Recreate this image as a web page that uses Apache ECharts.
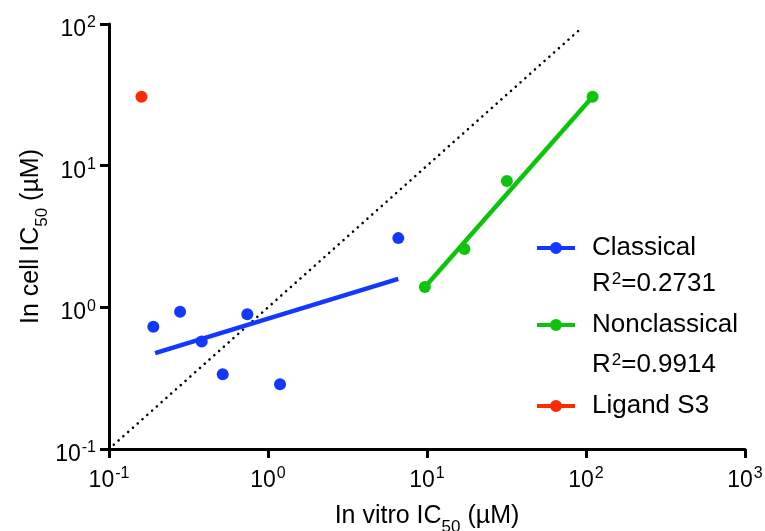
<!DOCTYPE html>
<html>
<head>
<meta charset="utf-8">
<script src="https://cdn.jsdelivr.net/npm/echarts@6/dist/echarts.min.js"></script>
<style>
  html, body { margin: 0; padding: 0; background: #fff; }
  #chart { width: 765px; height: 531px; }
</style>
</head>
<body>
<div id="chart"></div>
<script>
// IC50 values (µM): in vitro (x) vs in cell (y)
const classicalX = [0.19, 0.28, 0.383, 0.519, 0.741, 1.19, 6.6];
const classicalY = [0.73, 0.93, 0.573, 0.337, 0.895, 0.286, 3.08];
const classicalFitX = [0.195, 6.6];
const classicalFitY = [0.475, 1.59];

const nonclassicalX = [9.7, 17.2, 31.8, 110];
const nonclassicalY = [1.39, 2.58, 7.8, 30.7];
const nonclassicalFitX = [9.7, 110];
const nonclassicalFitY = [1.39, 30.7];

const ligandX = [0.16];
const ligandY = [30.7];

// y = x reference line
const identityXY = [0.1, 95];

const seriesNames = ['Classical', 'Nonclassical', 'Ligand S3'];
const r2Labels = ['0.2731', '0.9914'];

const xAxisRange = [0.1, 1000];
const yAxisRange = [0.1, 100];

const BLUE = '#1437ff';
const GREEN = '#0cc40c';
const RED = '#ff2a00';
const FONT = '"Liberation Sans", Arial, Helvetica, sans-serif';

const zip = (xs, ys) => xs.map((x, i) => [x, ys[i]]);

const powLabel = v => {
  const e = Math.round(Math.log10(v));
  return '{b|10}{s|' + e + '}';
};
const powRich = {
  b: { fontSize: 23, lineHeight: 23, verticalAlign: 'top', padding: [3, 0, 0, 0], fontFamily: FONT, color: '#000' },
  s: { fontSize: 16, lineHeight: 16, verticalAlign: 'top', padding: [0, 0, 0, 1], fontFamily: FONT, color: '#000' }
};
const titleRich = {
  n: { fontSize: 25, lineHeight: 28, verticalAlign: 'top', fontFamily: FONT, color: '#000' },
  sub: { fontSize: 17, lineHeight: 17, verticalAlign: 'top', padding: [15, 0, 0, 0], fontFamily: FONT, color: '#000' }
};

// legend glyph: a bar with a dot on it
const legendIcon = 'path://M0,4H38V8H0Z M13,6A6,6,0,1,1,25,6A6,6,0,1,1,13,6Z';

const axisCommon = {
  type: 'log',
  logBase: 10,
  axisLine: { show: true, lineStyle: { color: '#000', width: 3 } },
  axisTick: { show: true, inside: false, length: 9, lineStyle: { color: '#000', width: 3 } },
  minorTick: { show: false },
  splitLine: { show: false },
  minorSplitLine: { show: false }
};

const chart = echarts.init(document.getElementById('chart'), null, { renderer: 'canvas' });

const legendTops = [235, 312, 393];
const legendColors = [BLUE, GREEN, RED];

chart.setOption({
  animation: false,
  backgroundColor: '#fff',
  grid: { left: 109, right: 20, top: 24, bottom: 82, containLabel: false, outerBoundsMode: 'none' },
  xAxis: Object.assign({}, axisCommon, {
    min: xAxisRange[0], max: xAxisRange[1],
    axisLabel: { formatter: powLabel, rich: powRich, margin: 17 },
    name: '{n|In vitro IC}{sub|50}{n| (µM)}',
    nameLocation: 'middle',
    nameGap: 55,
    nameTextStyle: { rich: titleRich }
  }),
  yAxis: Object.assign({}, axisCommon, {
    min: yAxisRange[0], max: yAxisRange[1],
    axisLabel: { formatter: powLabel, rich: powRich, margin: 13, padding: [5, 0, 0, 0] },
    name: '{n|In cell IC}{sub|50}{n| (µM)}',
    nameLocation: 'middle',
    nameRotate: 90,
    nameGap: 62,
    nameMoveOverlap: false,
    nameTextStyle: { rich: titleRich }
  }),
  legend: seriesNames.map((name, i) => ({
    left: 537,
    top: legendTops[i],
    padding: 0,
    itemWidth: 38,
    itemHeight: 12,
    selectedMode: false,
    data: [{ name: name, icon: legendIcon, itemStyle: { color: legendColors[i] } }],
    textStyle: { fontSize: 26, fontFamily: FONT, color: '#000', padding: [0, 0, 0, 12] }
  })),
  graphic: r2Labels.map((v, i) => ({
    type: 'text',
    left: 592,
    top: [271, 352][i],
    style: {
      text: '{n|R}{s|2}{n|=' + v + '}',
      rich: {
        n: { fontSize: 26, lineHeight: 32, verticalAlign: 'top', fontFamily: FONT, fill: '#000' },
        s: { fontSize: 17, lineHeight: 17, verticalAlign: 'top', padding: [0, 0, 0, 1], fontFamily: FONT, fill: '#000' }
      }
    }
  })),
  series: [
    {
      name: 'identity',
      type: 'line',
      data: zip(identityXY, identityXY),
      showSymbol: false,
      silent: true,
      lineStyle: { color: '#000', width: 2.6, type: [0.01, 6.4], cap: 'round' },
      z: 1
    },
    {
      name: seriesNames[0],
      type: 'line',
      data: zip(classicalFitX, classicalFitY),
      showSymbol: false,
      silent: true,
      itemStyle: { color: BLUE },
      lineStyle: { color: BLUE, width: 4.5 },
      z: 2
    },
    {
      name: seriesNames[1],
      type: 'line',
      data: zip(nonclassicalFitX, nonclassicalFitY),
      showSymbol: false,
      silent: true,
      itemStyle: { color: GREEN },
      lineStyle: { color: GREEN, width: 4.5 },
      z: 2
    },
    {
      name: seriesNames[0],
      type: 'scatter',
      data: zip(classicalX, classicalY),
      symbolSize: 12,
      itemStyle: { color: BLUE, opacity: 1 },
      z: 3
    },
    {
      name: seriesNames[1],
      type: 'scatter',
      data: zip(nonclassicalX, nonclassicalY),
      symbolSize: 12,
      itemStyle: { color: GREEN, opacity: 1 },
      z: 3
    },
    {
      name: seriesNames[2],
      type: 'scatter',
      data: zip(ligandX, ligandY),
      symbolSize: 12,
      itemStyle: { color: RED, opacity: 1 },
      z: 3
    }
  ]
});
</script>
</body>
</html>
